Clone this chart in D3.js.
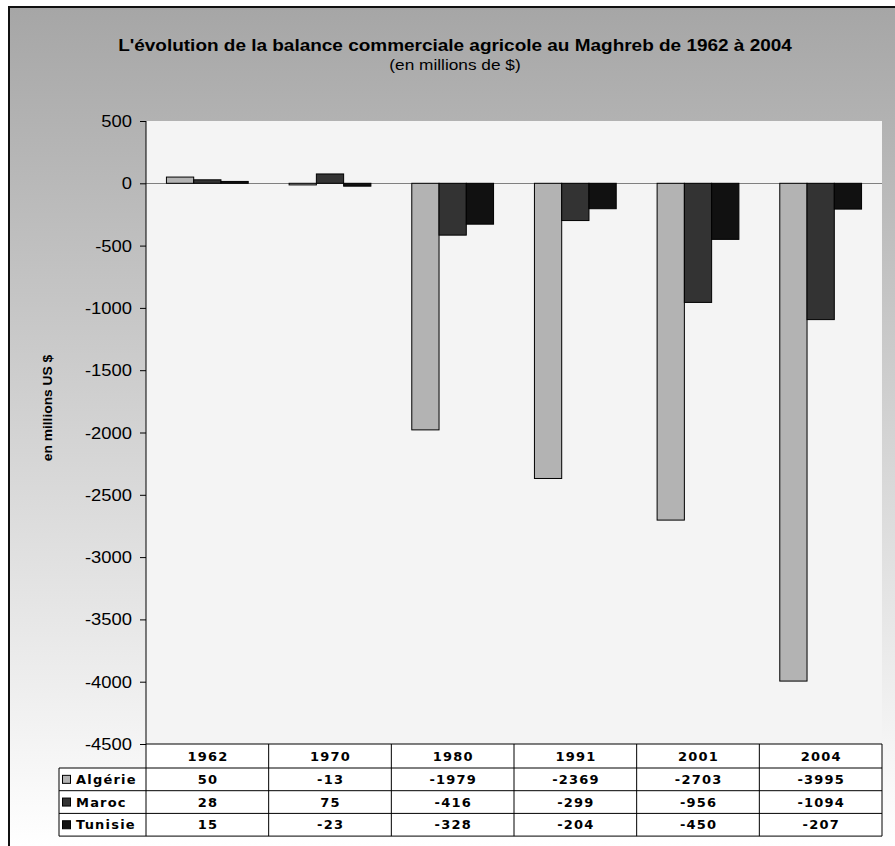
<!DOCTYPE html>
<html><head><meta charset="utf-8">
<script src="https://cdn.jsdelivr.net/npm/d3@7"></script>
<style>body{margin:0;background:#fff}</style>
</head><body><svg id="c" width="895" height="846"></svg>
<script>
const categories = ["1962","1970","1980","1991","2001","2004"];
const seriesNames = ["Algérie","Maroc","Tunisie"];
const algerie = [50,-13,-1979,-2369,-2703,-3995];
const maroc = [28,75,-416,-299,-956,-1094];
const tunisie = [15,-23,-328,-204,-450,-207];
const yTicks = [500,0,-500,-1000,-1500,-2000,-2500,-3000,-3500,-4000,-4500];
const seriesColors = ["#b3b3b3","#333333","#111111"];
const titleText = "L'évolution de la balance commerciale agricole au Maghreb de 1962 à 2004";
const subtitleText = "(en millions de $)";
const yLabel = "en millions US $";

const series = [algerie, maroc, tunisie];
const svg = d3.select("#c");
const SX = 1.15;
const plot = {l:146, r:882, t:121, b:744};
const tbl = {left:59, rowH:[24, 22.7, 22.7, 22.7]};

// background gradient
const defs = svg.append("defs");
const grad = defs.append("linearGradient").attr("id","bg").attr("x1",0).attr("y1",0).attr("x2",0).attr("y2",1);
grad.append("stop").attr("offset","0%").attr("stop-color","#a6a6a6");
grad.append("stop").attr("offset","100%").attr("stop-color","#ffffff");
svg.append("rect").attr("x",10).attr("y",8).attr("width",885).attr("height",838).attr("fill","url(#bg)");
svg.append("line").attr("x1",9).attr("x2",9).attr("y1",7).attr("y2",846).attr("stroke","#111").attr("stroke-width",2);
svg.append("line").attr("x1",8).attr("x2",895).attr("y1",7).attr("y2",7).attr("stroke","#111").attr("stroke-width",2);

// titles
function stext(g, x, y, txt, opts){
  return g.append("text").attr("transform",`translate(${x},${y}) scale(${opts.sx||SX},1)`)
    .attr("font-family","'Liberation Sans', Arial, sans-serif")
    .attr("font-size",opts.size).attr("font-weight",opts.weight||"normal")
    .attr("text-anchor",opts.anchor||"middle").attr("fill","#000").text(txt);
}
stext(svg, 455, 51, titleText, {size:16.5, weight:"bold"});
stext(svg, 455, 70, subtitleText, {size:15});

// scales
const y = d3.scaleLinear().domain([-4500,500]).range([plot.b, plot.t]);
const x0 = d3.scaleBand().domain(categories).range([plot.l, plot.r]).padding(0);
const bw = x0.bandwidth()/4.5;
const x1 = d3.scaleBand().domain(seriesNames).range([bw*0.75, bw*3.75]).padding(0);

// plot area
svg.append("rect").attr("x",plot.l).attr("y",plot.t).attr("width",plot.r-plot.l).attr("height",plot.b-plot.t).attr("fill","#f4f4f4");

// zero line
svg.append("line").attr("x1",plot.l).attr("x2",plot.r).attr("y1",Math.round(y(0))+0.5).attr("y2",Math.round(y(0))+0.5).attr("stroke","#808080").attr("stroke-width",1);

// bars
seriesNames.forEach((s,si)=>{
  svg.append("g").selectAll("rect").data(series[si]).join("rect")
    .attr("x",(d,i)=>x0(categories[i])+x1(s))
    .attr("width",x1.bandwidth())
    .attr("y",d=>y(Math.max(0,d)))
    .attr("height",d=>Math.abs(y(d)-y(0)))
    .attr("fill",seriesColors[si]).attr("stroke","#000").attr("stroke-width",1);
});

// y axis
const yAxis = d3.axisLeft(y).tickValues(yTicks).tickSize(6).tickPadding(8).tickFormat(d=>String(d));
const ga = svg.append("g").attr("transform",`translate(${plot.l},0)`).call(yAxis);
ga.select(".domain").attr("stroke","#000").attr("d",`M0,${plot.t}V${plot.b}`);
ga.selectAll(".tick line").attr("stroke","#000");
ga.selectAll(".tick text").each(function(){
  d3.select(this).attr("x",null).attr("dy",null).attr("y",null)
   .attr("transform",`translate(-14,5.5) scale(${SX},1)`)
   .attr("font-family","'Liberation Sans', Arial, sans-serif").attr("font-size",16).attr("fill","#000").attr("text-anchor","end");
});

// y label
svg.append("text").attr("transform",`translate(52,408) rotate(-90) scale(${SX},1)`)
  .attr("font-family","'Liberation Sans', Arial, sans-serif").attr("font-size",12).attr("font-weight","bold")
  .attr("text-anchor","middle").text(yLabel);

// data table
const rows = [plot.b];
tbl.rowH.forEach(h=>rows.push(rows[rows.length-1]+h));
const tg = svg.append("g");
tg.append("rect").attr("x",plot.l).attr("y",rows[0]).attr("width",plot.r-plot.l).attr("height",rows[1]-rows[0]).attr("fill","#fff");
tg.append("rect").attr("x",tbl.left).attr("y",rows[1]).attr("width",plot.r-tbl.left).attr("height",rows[4]-rows[1]).attr("fill","#fff");
tg.append("line").attr("x1",plot.l).attr("x2",plot.r).attr("y1",rows[0]).attr("y2",rows[0]).attr("stroke","#000");
[1,2,3,4].forEach(k=>tg.append("line").attr("x1",tbl.left).attr("x2",plot.r).attr("y1",rows[k]).attr("y2",rows[k]).attr("stroke","#000"));
tg.append("line").attr("x1",tbl.left).attr("x2",tbl.left).attr("y1",rows[1]).attr("y2",rows[4]).attr("stroke","#000");
categories.concat(["end"]).forEach((c,i)=>{
  const xx = i<categories.length ? x0(c) : plot.r;
  tg.append("line").attr("x1",xx).attr("x2",xx).attr("y1",rows[0]).attr("y2",rows[4]).attr("stroke","#000");
});
function ttext(x,yy,txt,anchor){
  return tg.append("text").attr("x",x).attr("y",yy).attr("text-anchor",anchor||"middle")
    .attr("font-family","'DejaVu Sans', Verdana, sans-serif").attr("font-weight","bold").attr("font-size",13)
    .attr("letter-spacing","1.2px").attr("dominant-baseline","central").attr("fill","#000").text(txt);
}
categories.forEach(c=>ttext(x0(c)+x0.bandwidth()/2+0.6,(rows[0]+rows[1])/2,c));
seriesNames.forEach((s,si)=>{
  const cy = (rows[si+1]+rows[si+2])/2;
  tg.append("rect").attr("x",62.5).attr("y",cy-4).attr("width",8).attr("height",8).attr("fill",seriesColors[si]).attr("stroke","#000");
  ttext(76,cy,s,"start");
  series[si].forEach((v,i)=>ttext(x0(categories[i])+x0.bandwidth()/2+0.6,cy,String(v)));
});
</script></body></html>
